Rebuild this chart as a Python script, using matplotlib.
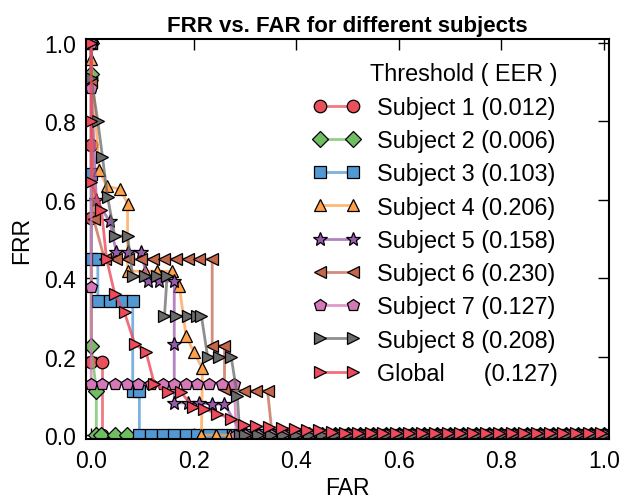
#!/usr/bin/env python3
# -*- coding: utf-8 -*-
"""FRR vs. FAR curves for eight subjects plus the global curve."""

import matplotlib
matplotlib.use('Agg')
import matplotlib.pyplot as plt

plt.rcParams['font.family'] = ['Liberation Sans', 'DejaVu Sans']
plt.rcParams['font.size'] = 16

# ---- data ------------------------------------------------------------------
names = ["Subject 1", "Subject 2", "Subject 3", "Subject 4", "Subject 5",
         "Subject 6", "Subject 7", "Subject 8", "Global      "]
eers = ["0.012", "0.006", "0.103", "0.206", "0.158",
        "0.230", "0.127", "0.208", "0.127"]

s1_far = [0.0, 0.0, 0.0, 0.0, 0.0, 0.022, 0.022]
s1_frr = [1.0, 0.91, 0.74, 0.555, 0.187, 0.187, 0.0]

s2_far = [0.0, 0.0, 0.0, 0.01, 0.01, 0.02, 0.046, 0.069]
s2_frr = [1.0, 0.92, 0.228, 0.113, 0.0, 0.0, 0.0, 0.0]

s3_far = [0.0, 0.0, 0.0, 0.013, 0.013, 0.036, 0.06, 0.081, 0.081, 0.094,
          0.094, 0.117, 0.14, 0.162, 0.185, 0.207, 0.23, 0.253, 0.276]
s3_frr = [1.0, 0.665, 0.45, 0.449, 0.342, 0.342, 0.342, 0.342, 0.113, 0.113,
          0.0, 0.0, 0.0, 0.0, 0.0, 0.0, 0.0, 0.0, 0.0]

s4_far = [0.0, 0.0, 0.016, 0.03, 0.057, 0.071, 0.071, 0.104, 0.129, 0.157,
          0.172, 0.185, 0.2, 0.217, 0.215, 0.244, 0.27]
s4_frr = [1.0, 0.96, 0.675, 0.635, 0.627, 0.59, 0.418, 0.418, 0.418, 0.418,
          0.38, 0.253, 0.212, 0.17, 0.0, 0.0, 0.0]

s5_far = [0.0, 0.0, 0.01, 0.036, 0.049, 0.071, 0.098, 0.11, 0.133, 0.162,
          0.162, 0.162, 0.188, 0.211, 0.236, 0.26, 0.295]
s5_frr = [1.0, 0.9, 0.6, 0.545, 0.467, 0.467, 0.467, 0.393, 0.393, 0.393,
          0.232, 0.082, 0.082, 0.082, 0.079, 0.079, 0.0]

s6_far = [0.0, 0.0, 0.005, 0.026, 0.049, 0.071, 0.098, 0.12, 0.143, 0.166,
          0.188, 0.211, 0.236, 0.236, 0.26, 0.26, 0.298, 0.322, 0.344, 0.353]
s6_frr = [1.0, 0.9, 0.55, 0.449, 0.449, 0.449, 0.449, 0.449, 0.449, 0.449,
          0.449, 0.449, 0.449, 0.228, 0.228, 0.118, 0.113, 0.113, 0.113, 0.0]

s7_far = [0.0, 0.0, 0.0, 0.0, 0.022, 0.046, 0.069, 0.091, 0.117, 0.14,
          0.162, 0.185, 0.207, 0.23, 0.256, 0.279, 0.283]
s7_frr = [1.0, 0.886, 0.378, 0.131, 0.131, 0.131, 0.131, 0.131, 0.131, 0.131,
          0.131, 0.131, 0.131, 0.131, 0.131, 0.131, 0.0]

s8_far = [0.0, 0.0, 0.013, 0.022, 0.032, 0.046, 0.071, 0.081, 0.104, 0.129,
          0.148, 0.143, 0.166, 0.188, 0.207, 0.215, 0.227, 0.25, 0.273,
          0.285, 0.29]
s8_frr = [1.0, 0.91, 0.80, 0.71, 0.607, 0.508, 0.508, 0.405, 0.405, 0.405,
          0.405, 0.304, 0.304, 0.304, 0.304, 0.304, 0.2, 0.2, 0.2,
          0.1, 0.0]

gl_far = [0.0, 0.0, 0.0, 0.02, 0.03, 0.046, 0.065, 0.085, 0.107, 0.123,
          0.149, 0.175, 0.198, 0.22, 0.245, 0.273, 0.298, 0.322, 0.347,
          0.372, 0.397, 0.42, 0.445, 0.47, 0.495]
gl_frr = [1.0, 0.8, 0.645, 0.575, 0.449, 0.36, 0.313, 0.232, 0.212, 0.131,
          0.11, 0.11, 0.072, 0.067, 0.055, 0.042, 0.025, 0.022, 0.02,
          0.018, 0.016, 0.014, 0.012, 0.008, 0.006]

# thresholds above the curves' knee: FRR is zero from here to FAR = 1
tail_far = [0.30, 0.325, 0.35, 0.375, 0.40, 0.425, 0.45, 0.475, 0.50,
            0.525, 0.55, 0.575, 0.60, 0.625, 0.65, 0.675, 0.70, 0.725,
            0.75, 0.775, 0.80, 0.825, 0.85, 0.875, 0.90, 0.925, 0.95,
            0.975, 1.0]
gl_tail_far = [0.52, 0.545, 0.57, 0.595, 0.62, 0.645, 0.67, 0.695, 0.72,
               0.745, 0.77, 0.795, 0.82, 0.845, 0.87, 0.895, 0.92, 0.945,
               0.97, 0.995]
gl_tail_frr = [0.005] * len(gl_tail_far)

COLORS = ["#E8505A", "#6FBF62", "#5299D3", "#FFA04A", "#9A5AAE",
          "#C4664A", "#D578B8", "#6A6A6A", "#EE4A5C"]
MARKERS = ["o", "D", "s", "^", "*", "<", "p", ">", ">"]
SIZES = [9, 8, 8, 9, 10, 9, 9, 9, 9]


def hex_rgba(h, a):
    h = h.lstrip("#")
    return tuple(int(h[i:i + 2], 16) / 255.0 for i in (0, 2, 4)) + (a,)


def main():
    series = [(s1_far, s1_frr), (s2_far, s2_frr), (s3_far, s3_frr),
              (s4_far, s4_frr), (s5_far, s5_frr), (s6_far, s6_frr),
              (s7_far, s7_frr), (s8_far, s8_frr)]

    fig = plt.figure(figsize=(6.19, 5.02), dpi=100)
    ax = fig.add_axes([0.139, 0.1235, 0.845, 0.7965])

    for i, (far, frr) in enumerate(series):
        x = list(far) + [t for t in tail_far if t > far[-1]]
        y = list(frr) + [0.0] * (len(x) - len(frr))
        ax.plot(x, y, color=hex_rgba(COLORS[i], 0.75), lw=2,
                marker=MARKERS[i], ms=SIZES[i], mfc=COLORS[i], mec="k",
                mew=0.9, label="%s (%s)" % (names[i], eers[i]))

    ax.plot(gl_far + gl_tail_far, gl_frr + gl_tail_frr,
            color=hex_rgba(COLORS[8], 0.8), lw=2, marker=MARKERS[8],
            ms=SIZES[8], mfc=COLORS[8], mec="k", mew=0.9,
            label="%s(%s)" % (names[8], eers[8]))

    ax.set_xlim(-0.01, 1.01)
    ax.set_ylim(-0.01, 1.01)
    ax.set_xticks([0.0, 0.2, 0.4, 0.6, 0.8, 1.0])
    ax.set_yticks([0.0, 0.2, 0.4, 0.6, 0.8, 1.0])
    ax.tick_params(direction="in", length=8, width=1, top=True, right=True,
                   labelsize=16.5, pad=7)
    for sp in ax.spines.values():
        sp.set_linewidth(1.5)

    ax.set_xlabel("FAR", fontsize=16.5, labelpad=3)
    ax.set_ylabel("FRR", fontsize=16.5, labelpad=8)
    ax.set_title("FRR vs. FAR for different subjects", fontsize=16,
                 fontweight="bold", pad=6)

    ax.legend(loc="upper right", bbox_to_anchor=(0.92, 0.965),
              borderaxespad=0, frameon=False, numpoints=2,
              handlelength=2.0, handletextpad=0.75, labelspacing=0.44,
              title="Threshold ( EER )", alignment="right",
              fontsize=16.8, title_fontsize=16.8)

    fig.savefig("out.png", dpi=100)
    plt.close(fig)


if __name__ == "__main__":
    main()
